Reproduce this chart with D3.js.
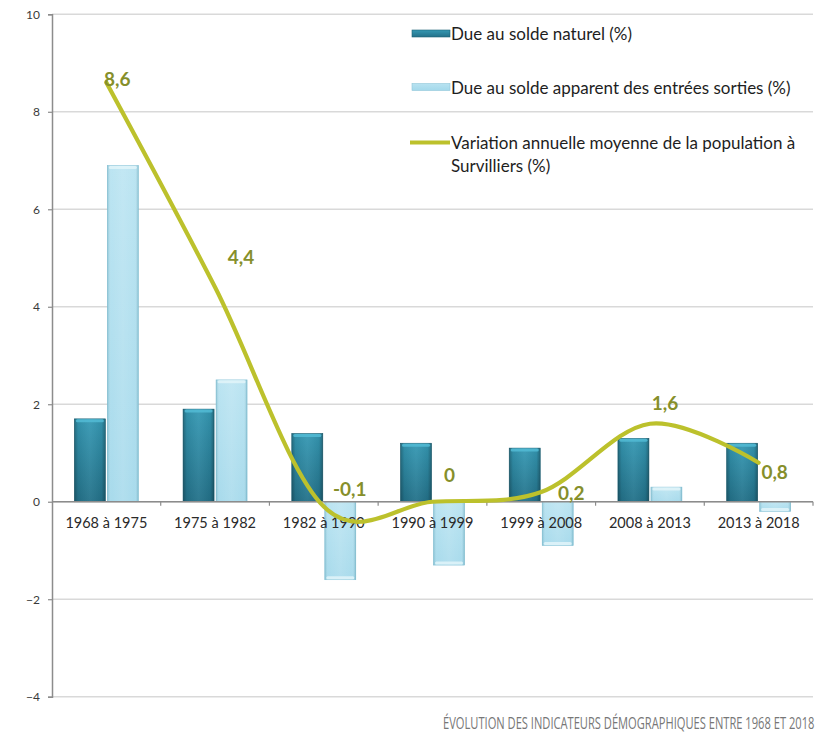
<!DOCTYPE html>
<html><head><meta charset="utf-8">
<script src="https://cdn.jsdelivr.net/npm/d3@7"></script>
<style>
html,body{margin:0;padding:0;background:#fff;}
svg{display:block;}
</style>
</head><body>
<svg id="chart" width="823" height="738"></svg>
<script>
// ---- data ----
const categories = ["1968 à 1975","1975 à 1982","1982 à 1990","1990 à 1999","1999 à 2008","2008 à 2013","2013 à 2018"];
const naturalBalance = [1.7, 1.9, 1.4, 1.2, 1.1, 1.3, 1.2];
const migrationBalance = [6.9, 2.5, -1.6, -1.3, -0.9, 0.3, -0.2];
const annualVariation = [8.6, 4.4, -0.1, 0, 0.2, 1.6, 0.8];
const variationLabels = ["8,6","4,4","-0,1","0","0,2","1,6","0,8"];
const yTicks = [-4, -2, 0, 2, 4, 6, 8, 10];
const seriesNames = ["Due au solde naturel (%)", "Due au solde apparent des entrées sorties (%)"];
const lineName = ["Variation annuelle moyenne de la population à", "Survilliers (%)"];
const caption = "ÉVOLUTION DES INDICATEURS DÉMOGRAPHIQUES ENTRE 1968 ET 2018";

// ---- layout (pixels) ----
const plot = {left: 52, right: 813, top: 14.3, bottom: 696.7};
const labelOffsets = [[11,-4],[26,-31],[26,-18],[17,-27],[30,1],[15,-21],[16,9]];

const svg = d3.select("#chart");
const defs = svg.append("defs");

function grad(id, stops, vertical){
  const g = defs.append("linearGradient").attr("id", id)
    .attr("x1",0).attr("y1",0).attr("x2", vertical?0:1).attr("y2", vertical?1:0);
  stops.forEach(s => g.append("stop").attr("offset", s[0]).attr("stop-color", s[1]).attr("stop-opacity", s[2]===undefined?1:s[2]));
}
grad("darkV", [["0%","#3598b3"],["100%","#237189"]], true);
grad("lightV", [["0%","#b8e3f1"],["100%","#a4d9eb"]], true);
grad("edgeH", [["0%","#000",0.28],["12%","#000",0.06],["50%","#fff",0.05],["88%","#000",0.06],["100%","#000",0.3]], false);
grad("edgeHL", [["0%","#3d8aa0",0.35],["12%","#fff",0.05],["50%","#fff",0.15],["88%","#fff",0.05],["100%","#3d8aa0",0.4]], false);

const x = d3.scaleBand().domain(categories).range([plot.left, plot.right]).paddingInner(0).paddingOuter(0);
const y = d3.scaleLinear().domain([-4, 10]).range([plot.bottom, plot.top]);
const inner = d3.scaleBand().domain([0,1]).range([-32, 32]).paddingInner(0.06);

// gridlines
svg.append("g").selectAll("line").data(yTicks).join("line")
  .attr("x1", plot.left).attr("x2", plot.right)
  .attr("y1", d => y(d)).attr("y2", d => y(d))
  .attr("stroke", "#d9d9d9").attr("stroke-width", 1.5);

// y axis
const yAxis = d3.axisLeft(y).tickValues(yTicks).tickSize(4).tickPadding(8).tickFormat(d3.format("d"));
const ya = svg.append("g").attr("transform", `translate(${plot.left},0)`).call(yAxis);
ya.select(".domain").attr("stroke", "#8c8c8c").attr("stroke-width", 1.5);
ya.selectAll(".tick line").attr("stroke", "#8c8c8c").attr("stroke-width", 1.2);
ya.selectAll(".tick text").attr("font-family", "Lato, sans-serif").attr("font-size", 12).attr("fill", "#3a3a3a");

// bars
const series = [
  {values: naturalBalance, fill: "url(#darkV)", edge: "url(#edgeH)", top: "#52bbd5", stroke: "#1d6276"},
  {values: migrationBalance, fill: "url(#lightV)", edge: "url(#edgeHL)", top: "#e2f4f9", stroke: "#8fc7d9"}
];
series.forEach((s, si) => {
  const g = svg.append("g");
  const data = categories.map((c, i) => ({c, v: s.values[i]}));
  const bx = d => x(d.c) + x.bandwidth()/2 + inner(si);
  const by = d => Math.min(y(d.v), y(0));
  const bh = d => Math.abs(y(d.v) - y(0));
  g.selectAll("rect.base").data(data).join("rect").attr("class","base")
    .attr("x", bx).attr("y", by).attr("width", inner.bandwidth()).attr("height", bh)
    .attr("fill", s.fill).attr("stroke", s.stroke).attr("stroke-width", 0.6);
  g.selectAll("rect.edge").data(data).join("rect").attr("class","edge")
    .attr("x", bx).attr("y", by).attr("width", inner.bandwidth()).attr("height", bh)
    .attr("fill", s.edge);
  g.selectAll("rect.cap").data(data).join("rect").attr("class","cap")
    .attr("x", d => bx(d) + 1.5).attr("y", d => d.v >= 0 ? y(d.v) + 0.5 : y(d.v) - 3.5)
    .attr("width", inner.bandwidth() - 3).attr("height", d => Math.min(3, bh(d)))
    .attr("rx", 1.5).attr("fill", s.top).attr("opacity", 0.85);
});

// category axis at zero
const xa = svg.append("g").attr("transform", `translate(0,${y(0)})`);
xa.append("line").attr("x1", plot.left).attr("x2", plot.right).attr("stroke", "#8c8c8c").attr("stroke-width", 1.5);
xa.selectAll("line.tk").data(categories).join("line").attr("class","tk")
  .attr("x1", d => x(d) + x.bandwidth()).attr("x2", d => x(d) + x.bandwidth())
  .attr("y1", 0).attr("y2", 4).attr("stroke", "#8c8c8c").attr("stroke-width", 1.2);
xa.selectAll("text").data(categories).join("text")
  .attr("x", d => x(d) + x.bandwidth()/2).attr("y", 21)
  .attr("dominant-baseline", "central").attr("text-anchor", "middle")
  .attr("font-family", "Lato, sans-serif").attr("font-size", 14.5).attr("fill", "#2a2a2a")
  .text(d => d);

// line
const pts = categories.map((c, i) => [x(c) + x.bandwidth()/2, y(annualVariation[i])]);
svg.append("path").attr("d", d3.line().curve(d3.curveCardinal.tension(0))(pts))
  .attr("fill", "none").attr("stroke", "#bcc12c").attr("stroke-width", 4.2).attr("stroke-linecap", "round");

svg.append("g").selectAll("text").data(variationLabels).join("text")
  .attr("x", (d, i) => pts[i][0] + labelOffsets[i][0])
  .attr("y", (d, i) => pts[i][1] + labelOffsets[i][1])
  .attr("text-anchor", "middle").attr("dominant-baseline", "central")
  .attr("font-family", "Lato, sans-serif").attr("font-weight", "bold").attr("font-size", 19)
  .attr("fill", "#868f2b").text(d => d);

// legend
const lg = svg.append("g").attr("font-family", "Lato, sans-serif").attr("font-size", 17).attr("fill", "#1e1e1e");
[["url(#darkV)", "#1d6276", 33.5], ["url(#lightV)", "#8fc7d9", 87]].forEach((d, i) => {
  lg.append("rect").attr("x", 412).attr("y", d[2] - 3.5).attr("width", 38).attr("height", 7)
    .attr("fill", d[0]).attr("stroke", d[1]).attr("stroke-width", 0.6);
  lg.append("text").attr("x", 451).attr("y", d[2]).attr("dominant-baseline", "central").text(seriesNames[i]);
});
lg.append("line").attr("x1", 410).attr("x2", 450).attr("y1", 142.5).attr("y2", 142.5)
  .attr("stroke", "#bcc12c").attr("stroke-width", 4.2);
lineName.forEach((t, i) => {
  lg.append("text").attr("x", 451).attr("y", 142 + i * 23).attr("dominant-baseline", "central").text(t);
});

// caption (condensed horizontally to the reference width)
const cap = svg.append("text")
  .attr("font-family", "'Open Sans', sans-serif").attr("font-size", 16).attr("fill", "#777")
  .attr("text-anchor", "start").text(caption);
const natural = cap.node().getComputedTextLength();
const sx = 372 / natural;
cap.attr("transform", `translate(443,728.5) scale(${sx},1)`);
</script>
</body></html>
